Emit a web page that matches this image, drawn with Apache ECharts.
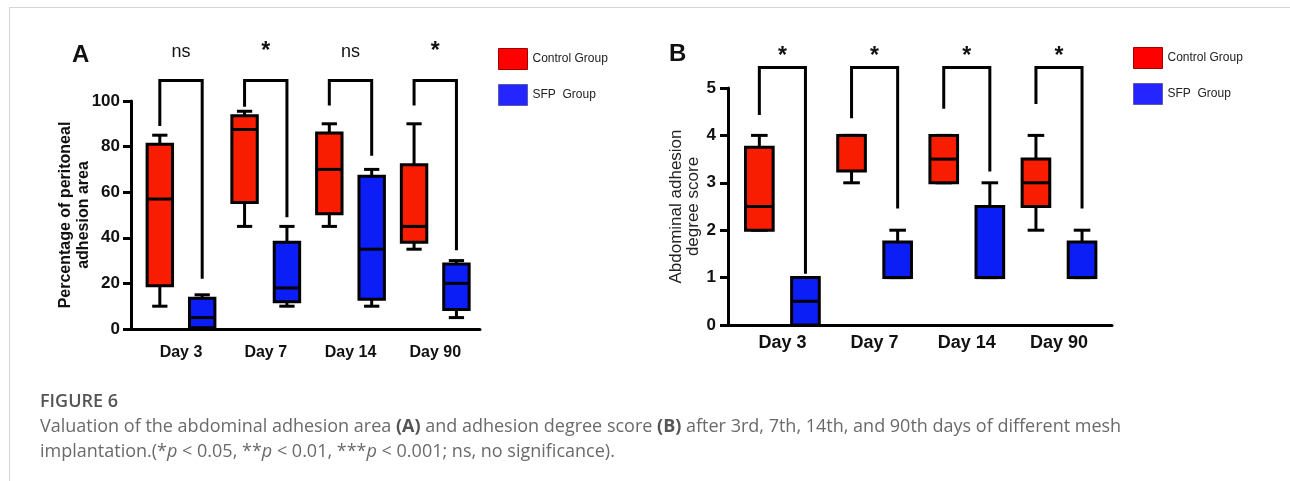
<!DOCTYPE html>
<html>
<head>
<meta charset="utf-8">
<script src="https://cdn.jsdelivr.net/npm/echarts@6/dist/echarts.min.js"></script>
<style>
html,body{margin:0;padding:0;background:#fff;}
#chart{width:1290px;height:481px;}
</style>
</head>
<body>
<div id="chart"></div>
<script>
// ---------- data ----------
const categories = ['Day 3', 'Day 7', 'Day 14', 'Day 90'];
const seriesNames = ['Control Group', 'SFP  Group'];

// Panel A: percentage of peritoneal adhesion area  [min, Q1, median, Q3, max]
const areaControl = [
  [10, 19, 57, 81, 85],
  [45, 55.5, 87.5, 93.5, 95.5],
  [45, 50.5, 70, 86, 90],
  [35, 38, 45, 72, 90]
];
const areaSFP = [
  [0, 0.5, 5, 13.5, 15],
  [10, 12, 18, 38, 45],
  [10, 13, 35, 67, 70],
  [5, 8.5, 20, 28.5, 30]
];
const areaTicks = [0, 20, 40, 60, 80, 100];
const areaSig = ['ns', '*', 'ns', '*'];
// bracket: [left leg end, top, right leg end] (in axis units)
const areaBracket = [
  [89, 109, 22],
  [97.5, 109, 49],
  [98, 109, 76],
  [98, 109, 34.5]
];

// Panel B: abdominal adhesion degree score  [min, Q1, median, Q3, max]
const scoreControl = [
  [2, 2, 2.5, 3.75, 4],
  [3, 3.25, 4, 4, 4],
  [3, 3, 3.5, 4, 4],
  [2, 2.5, 3, 3.5, 4]
];
const scoreSFP = [
  [0, 0, 0.5, 1, 1],
  [1, 1, 1, 1.75, 2],
  [1, 1, 1, 2.5, 3],
  [1, 1, 1, 1.75, 2]
];
const scoreTicks = [0, 1, 2, 3, 4, 5];
const scoreSig = ['*', '*', '*', '*'];
const scoreBracket = [
  [4.43, 5.43, 1.08],
  [4.36, 5.43, 2.46],
  [4.56, 5.43, 3.24],
  [4.66, 5.43, 2.46]
];

// ---------- layout constants ----------
const START = 0.59;   // position of first group on x value axis
const OFFSET = 0.25;  // control / SFP offset from group centre
const BOX_W = 0.30;
const CAP_W = 0.18;
const FONT = '"Liberation Sans", Arial, Helvetica, sans-serif';
const RED = '#f81c00', BLUE = '#0b1ef5';

function boxRender(side) {
  return function (params, api) {
    const idx = api.value(0);
    const xc = START + idx + side * OFFSET;
    const pMin = api.coord([xc, api.value(1)]);
    const pQ1 = api.coord([xc, api.value(2)]);
    const pMed = api.coord([xc, api.value(3)]);
    const pQ3 = api.coord([xc, api.value(4)]);
    const pMax = api.coord([xc, api.value(5)]);
    const hb = api.size([BOX_W, 0])[0] / 2;
    const hc = api.size([CAP_W, 0])[0] / 2;
    const cx = pMed[0];
    const ls = { stroke: '#000', lineWidth: 3 };
    return {
      type: 'group',
      children: [
        { type: 'line', shape: { x1: cx, y1: pMax[1], x2: cx, y2: pQ3[1] }, style: ls },
        { type: 'line', shape: { x1: cx - hc, y1: pMax[1], x2: cx + hc, y2: pMax[1] }, style: ls },
        { type: 'line', shape: { x1: cx, y1: pQ1[1], x2: cx, y2: pMin[1] }, style: ls },
        { type: 'line', shape: { x1: cx - hc, y1: pMin[1], x2: cx + hc, y2: pMin[1] }, style: ls },
        { type: 'rect', shape: { x: cx - hb, y: pQ3[1], width: 2 * hb, height: pQ1[1] - pQ3[1] },
          style: { fill: api.visual('color'), stroke: '#000', lineWidth: 3 } },
        { type: 'line', shape: { x1: cx - hb, y1: pMed[1], x2: cx + hb, y2: pMed[1] }, style: ls }
      ]
    };
  };
}

function bracketRender(sig, labelLevel) {
  return function (params, api) {
    const idx = api.value(0);
    const xl = START + idx - OFFSET, xr = START + idx + OFFSET;
    const a = api.coord([xl, api.value(1)]);
    const b = api.coord([xl, api.value(2)]);
    const c = api.coord([xr, api.value(2)]);
    const d = api.coord([xr, api.value(3)]);
    const t = api.coord([START + idx, labelLevel]);
    const s = sig[idx];
    return {
      type: 'group',
      children: [
        { type: 'polyline', shape: { points: [a, b, c, d] },
          style: { stroke: '#000', lineWidth: 3, fill: null, lineJoin: 'miter' } },
        { type: 'text', x: t[0], y: t[1],
          style: { text: s, fill: '#111', font: (s === '*' ? 'bold 23px ' : '18px ') + FONT,
                   align: 'center', verticalAlign: 'middle' } }
      ]
    };
  };
}

function toItems(arr) { return arr.map((r, i) => [i].concat(r)); }

function yAxisCfg(gridIndex, max, interval, name, nameGap, nameFont, labelMargin, tickLen) {
  return {
    type: 'value', gridIndex: gridIndex, min: 0, max: max, interval: interval,
    name: name, nameLocation: 'middle', nameRotate: 90, nameGap: nameGap, nameMoveOverlap: false,
    nameTextStyle: nameFont,
    axisLine: { show: true, lineStyle: { color: '#000', width: 3 } },
    axisTick: { show: true, length: tickLen, lineStyle: { color: '#000', width: 3 } },
    axisLabel: { color: '#111', fontFamily: FONT, fontWeight: 'bold', fontSize: 17, margin: labelMargin },
    splitLine: { show: false }
  };
}

function xAxisCfg(gridIndex, max, fontSize, margin) {
  return {
    type: 'value', gridIndex: gridIndex, min: 0, max: max,
    axisLine: { show: true, onZero: false, lineStyle: { color: '#000', width: 3 } },
    axisTick: { show: false },
    splitLine: { show: false },
    axisLabel: {
      customValues: categories.map((c, i) => START + i),
      formatter: function (v) { return categories[Math.round(v - START)]; },
      color: '#111', fontFamily: FONT, fontWeight: 'bold', fontSize: fontSize, margin: margin
    }
  };
}

const chart = echarts.init(document.getElementById('chart'), null, { renderer: 'canvas' });

const legendData = [
  { name: seriesNames[0], itemStyle: { color: '#ff0000', borderColor: '#a00000', borderWidth: 1 } },
  { name: seriesNames[1], itemStyle: { color: '#2525ff', borderColor: '#5a5ab0', borderWidth: 1 } }
];
const legendCommon = {
  orient: 'vertical', itemWidth: 29, itemHeight: 21, itemGap: 14, icon: 'rect', padding: 0,
  data: legendData, selectedMode: false,
  textStyle: { fontFamily: FONT, fontSize: 12, color: '#222' }
};

chart.setOption({
  animation: false,
  backgroundColor: '#fff',
  grid: [
    { left: 131, top: 101, width: 349, height: 228 },
    { left: 728, top: 88, width: 384, height: 237 }
  ],
  xAxis: [xAxisCfg(0, 4.118, 16, 16), xAxisCfg(1, 4.165, 18, 9)],
  yAxis: [
    yAxisCfg(0, 100, 20, 'Percentage of peritoneal\nadhesion area', 38,
      { fontFamily: FONT, fontWeight: 'bold', fontSize: 16, color: '#111', lineHeight: 18 }, 11, 8),
    yAxisCfg(1, 5, 1, 'Abdominal adhesion\ndegree score', 26,
      { fontFamily: FONT, fontWeight: 'normal', fontSize: 17, color: '#222', lineHeight: 17 }, 12, 8)
  ],
  legend: [
    Object.assign({ left: 498, top: 48 }, legendCommon),
    Object.assign({ left: 1133, top: 47 }, legendCommon)
  ],
  series: [
    { type: 'custom', name: seriesNames[0], xAxisIndex: 0, yAxisIndex: 0, itemStyle: { color: RED },
      renderItem: boxRender(-1), encode: { x: 0, y: [1, 2, 3, 4, 5] }, data: toItems(areaControl), clip: false },
    { type: 'custom', name: seriesNames[1], xAxisIndex: 0, yAxisIndex: 0, itemStyle: { color: BLUE },
      renderItem: boxRender(1), encode: { x: 0, y: [1, 2, 3, 4, 5] }, data: toItems(areaSFP), clip: false },
    { type: 'custom', name: 'bracketsA', xAxisIndex: 0, yAxisIndex: 0,
      renderItem: bracketRender(areaSig, 121.5), encode: { x: 0, y: [1, 2, 3] }, data: toItems(areaBracket), clip: false },
    { type: 'custom', name: seriesNames[0], xAxisIndex: 1, yAxisIndex: 1, itemStyle: { color: RED },
      renderItem: boxRender(-1), encode: { x: 0, y: [1, 2, 3, 4, 5] }, data: toItems(scoreControl), clip: false },
    { type: 'custom', name: seriesNames[1], xAxisIndex: 1, yAxisIndex: 1, itemStyle: { color: BLUE },
      renderItem: boxRender(1), encode: { x: 0, y: [1, 2, 3, 4, 5] }, data: toItems(scoreSFP), clip: false },
    { type: 'custom', name: 'bracketsB', xAxisIndex: 1, yAxisIndex: 1,
      renderItem: bracketRender(scoreSig, 5.66), encode: { x: 0, y: [1, 2, 3] }, data: toItems(scoreBracket), clip: false }
  ],
  graphic: [
    { type: 'line', shape: { x1: 9.5, y1: 7.5, x2: 1290, y2: 7.5 }, style: { stroke: '#d4d4d4', lineWidth: 1 } },
    { type: 'line', shape: { x1: 9.5, y1: 7.5, x2: 9.5, y2: 481 }, style: { stroke: '#d4d4d4', lineWidth: 1 } },
    { type: 'text', left: 72, top: 43, style: { text: 'A', font: 'bold 24px ' + FONT, fill: '#111' } },
    { type: 'text', left: 669, top: 42, style: { text: 'B', font: 'bold 24px ' + FONT, fill: '#111' } },
    { type: 'text', left: 40, top: 393, style: { text: 'FIGURE 6', font: '600 18px "Open Sans"', fill: '#555' } },
    { type: 'text', left: 40, top: 418, style: {
        text: 'Valuation of the abdominal adhesion area {b|(A)} and adhesion degree score {b|(B)} after 3rd, 7th, 14th, and 90th days of different mesh',
        font: '18px "Open Sans"', fill: '#6a6a6a',
        rich: { b: { fontWeight: 'bold', fontFamily: 'Open Sans', fontSize: 18, fill: '#555' } } } },
    { type: 'text', left: 40, top: 443, style: {
        text: 'implantation.(*{i|p} < 0.05, **{i|p} < 0.01, ***{i|p} < 0.001; ns, no significance).',
        font: '18px "Open Sans"', fill: '#6a6a6a',
        rich: { i: { fontStyle: 'italic', fontFamily: 'Open Sans', fontSize: 18, fill: '#6a6a6a' } } } }
  ]
});
</script>
</body>
</html>
